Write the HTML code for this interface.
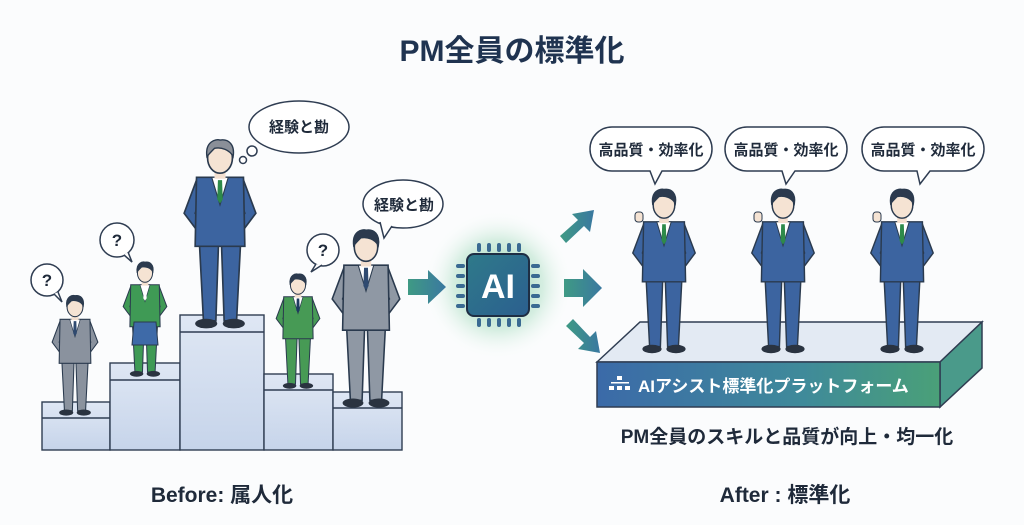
<!DOCTYPE html>
<html><head><meta charset="utf-8"><style>
html,body{margin:0;padding:0;background:#fbfcfd;}
svg{display:block}
text{font-family:"Liberation Sans","Noto Sans CJK JP",sans-serif;font-weight:bold}
</style></head><body>
<svg width="1024" height="525" viewBox="0 0 1024 525" xmlns="http://www.w3.org/2000/svg">
<defs>
<radialGradient id="glow" cx="50%" cy="50%" r="50%">
<stop offset="0" stop-color="#5fbf8a" stop-opacity="0.75"/>
<stop offset="0.6" stop-color="#8fd3ad" stop-opacity="0.35"/>
<stop offset="1" stop-color="#ffffff" stop-opacity="0"/>
</radialGradient>
<linearGradient id="chip" x1="0" y1="0" x2="1" y2="1">
<stop offset="0" stop-color="#2f7a8a"/><stop offset="1" stop-color="#2b5f8f"/>
</linearGradient>
<linearGradient id="plat" x1="0" y1="0" x2="1" y2="0">
<stop offset="0" stop-color="#3b6aa8"/><stop offset="0.6" stop-color="#3f8a9a"/><stop offset="1" stop-color="#4aa078"/>
</linearGradient>
<linearGradient id="arr" x1="0" y1="0" x2="1" y2="0">
<stop offset="0" stop-color="#3f9a84"/><stop offset="1" stop-color="#3a78a0"/>
</linearGradient>
<linearGradient id="blk" x1="0" y1="0" x2="0" y2="1">
<stop offset="0" stop-color="#dfe7f4"/><stop offset="1" stop-color="#c6d4ea"/>
</linearGradient>
<g id="p">
<path d="M-15,60 L-1,60 L-3,118 L-12,118 Z" fill="var(--s)" stroke="#2a3a4e" stroke-width="1.2"/>
<path d="M15,60 L1,60 L3,118 L12,118 Z" fill="var(--s)" stroke="#2a3a4e" stroke-width="1.2"/>
<ellipse cx="-10" cy="120" rx="8" ry="3.5" fill="#2a3340"/>
<ellipse cx="10" cy="120" rx="8" ry="3.5" fill="#2a3340"/>
<path d="M-17,16 L-26,40 L-14,56 L-10,50 L-18,40 L-12,24 Z" fill="var(--s)" stroke="#2a3a4e" stroke-width="1.2"/>
<path d="M17,16 L26,40 L14,56 L10,50 L18,40 L12,24 Z" fill="var(--s)" stroke="#2a3a4e" stroke-width="1.2"/>
<path d="M-17,14 L17,14 L18,64 L-18,64 Z" fill="var(--s)" stroke="#2a3a4e" stroke-width="1.2"/>
<path d="M-6,14 L6,14 L0,34 Z" fill="#fff" stroke="#2a3a4e" stroke-width="0.8"/>
<path d="M-1.5,16 L1.5,16 L2,30 L0,33 L-2,30 Z" fill="var(--t)"/>
<rect x="-4" y="7" width="8" height="8" fill="#f3dfcf"/>
<ellipse cx="0" cy="0" rx="9" ry="11" fill="#f5e3d3" stroke="#2a3a4e" stroke-width="1.2"/>
<path d="M-9.5,-1 C-11,-12 -3,-14 0,-13 C6,-14 11,-10 9.5,-1 C7,-6 1,-8 -4,-7 C-6,-5 -8,-3 -9.5,-1 Z" fill="var(--h)" stroke="#2a3a4e" stroke-width="1"/>
</g>
</defs>
<rect width="1024" height="525" fill="#fbfcfd"/>
<text x="512" y="61" font-size="30" text-anchor="middle" fill="#1f3350">PM全員の標準化</text>

<g stroke="#2f3d52" stroke-width="1.4">
<rect x="42" y="402" width="68" height="48" fill="url(#blk)"/>
<path d="M42,418 L110,418" fill="none"/>
<rect x="110" y="363" width="70" height="87" fill="url(#blk)"/>
<path d="M110,380 L180,380" fill="none"/>
<rect x="180" y="315" width="84" height="135" fill="url(#blk)"/>
<path d="M180,332 L264,332" fill="none"/>
<rect x="264" y="374" width="69" height="76" fill="url(#blk)"/>
<path d="M264,390 L333,390" fill="none"/>
<rect x="333" y="392" width="69" height="58" fill="url(#blk)"/>
<path d="M333,408 L402,408" fill="none"/>
</g>

<use href="#p" transform="translate(75,307) scale(0.88)" style="--s:#8a929e;--t:#2f4a70;--h:#2c3a4e"/>
<use href="#p" transform="translate(145,273) scale(0.84)" style="--s:#3f9a55;--t:#fff;--h:#2c3a4e"/>
<path d="M134,322 L156,322 L158,345 L132,345 Z" fill="#3e6aa8" stroke="#2a3a4e"/>
<use href="#p" transform="translate(220,158) scale(1.38)" style="--s:#3c64a0;--t:#2e8a4a;--h:#8a8f98"/>
<use href="#p" transform="translate(298,285) scale(0.84)" style="--s:#479a55;--t:#1e3a60;--h:#2c3a4e"/>
<use href="#p" transform="translate(366,247) scale(1.3)" style="--s:#8f98a4;--t:#2f4a70;--h:#2c3a4e"/>

<g fill="#fff" stroke="#2f3d52" stroke-width="1.5">
<circle cx="47" cy="280" r="16"/><path d="M54,294 L62,302 L58,292" />
<circle cx="117" cy="240" r="17"/><path d="M124,255 L132,262 L128,252"/>
<circle cx="323" cy="250" r="16"/><path d="M316,264 L311,272 L322,265"/>
</g>
<g font-size="17" fill="#1f2a3a" text-anchor="middle">
<text x="47" y="286">?</text><text x="117" y="246">?</text><text x="323" y="256">?</text>
</g>
<g fill="#fff" stroke="#2f3d52" stroke-width="1.5">
<ellipse cx="299" cy="127" rx="50" ry="26"/>
<circle cx="252" cy="151" r="5"/><circle cx="243" cy="160" r="3.5"/>
<ellipse cx="403" cy="204" rx="40" ry="24"/>
<path d="M380,222 L384,238 L392,226"/>
</g>
<g font-size="15" fill="#1f2a3a" text-anchor="middle">
<text x="299" y="132">経験と勘</text><text x="404" y="210">経験と勘</text>
</g>

<circle cx="498" cy="285" r="75" fill="url(#glow)"/>
<path d="M408,279 L428,279 L428,270 L446,287 L428,304 L428,295 L408,295 Z" fill="url(#arr)"/>
<g fill="#3a6a92">
<rect x="477" y="243" width="4" height="9" rx="2"/><rect x="487" y="243" width="4" height="9" rx="2"/><rect x="497" y="243" width="4" height="9" rx="2"/><rect x="507" y="243" width="4" height="9" rx="2"/><rect x="517" y="243" width="4" height="9" rx="2"/>
<rect x="477" y="318" width="4" height="9" rx="2"/><rect x="487" y="318" width="4" height="9" rx="2"/><rect x="497" y="318" width="4" height="9" rx="2"/><rect x="507" y="318" width="4" height="9" rx="2"/><rect x="517" y="318" width="4" height="9" rx="2"/>
<rect x="456" y="264" width="9" height="4" rx="2"/><rect x="456" y="274" width="9" height="4" rx="2"/><rect x="456" y="284" width="9" height="4" rx="2"/><rect x="456" y="294" width="9" height="4" rx="2"/><rect x="456" y="304" width="9" height="4" rx="2"/>
<rect x="531" y="264" width="9" height="4" rx="2"/><rect x="531" y="274" width="9" height="4" rx="2"/><rect x="531" y="284" width="9" height="4" rx="2"/><rect x="531" y="294" width="9" height="4" rx="2"/><rect x="531" y="304" width="9" height="4" rx="2"/>
</g>
<rect x="467" y="254" width="62" height="62" rx="7" fill="url(#chip)" stroke="#1e2e44" stroke-width="2"/>
<text x="498" y="298" font-size="34" fill="#fff" text-anchor="middle">AI</text>
<g fill="url(#arr)">
<path d="M560,236 L578,220 L572,214 L594,210 L590,232 L584,226 L566,243 Z"/>
<path d="M564,279 L583,279 L583,269 L602,288 L583,307 L583,297 L564,297 Z"/>
<path d="M566,326 L584,343 L578,349 L600,353 L596,331 L590,337 L573,319 Z"/>
</g>

<path d="M597,362 L640,322 L982,322 L940,362 Z" fill="#e3eaf3" stroke="#2f3d52" stroke-width="1.5"/>
<path d="M940,362 L982,322 L982,368 L940,407 Z" fill="#4a9a8a" stroke="#2f3d52" stroke-width="1.5"/>
<rect x="597" y="362" width="343" height="45" fill="url(#plat)" stroke="#2f3d52" stroke-width="1.5"/>
<g fill="#fff">
<rect x="617" y="376" width="5" height="4"/><rect x="609" y="386" width="5" height="4"/><rect x="617" y="386" width="5" height="4"/><rect x="625" y="386" width="5" height="4"/>
<rect x="611" y="382" width="18" height="1.5"/>
</g>
<text x="638" y="392" font-size="17" fill="#fff" font-weight="normal">AIアシスト標準化プラットフォーム</text>

<use href="#p" transform="translate(664,205) scale(1.2)" style="--s:#3c64a0;--t:#2e8a4a;--h:#2c3a4e"/>
<use href="#p" transform="translate(783,205) scale(1.2)" style="--s:#3c64a0;--t:#2e8a4a;--h:#2c3a4e"/>
<use href="#p" transform="translate(902,205) scale(1.2)" style="--s:#3c64a0;--t:#2e8a4a;--h:#2c3a4e"/>
<g fill="#f5e3d3" stroke="#2a3a4e" stroke-width="1">
<rect x="635" y="212" width="8" height="10" rx="3"/><rect x="754" y="212" width="8" height="10" rx="3"/><rect x="873" y="212" width="8" height="10" rx="3"/>
</g>

<g fill="#fff" stroke="#2f3d52" stroke-width="1.5">
<path d="M612,127 H690 A22,22 0 0 1 690,171 H662 L655,184 L650,171 H612 A22,22 0 0 1 612,127 Z"/>
<path d="M747,127 H825 A22,22 0 0 1 825,171 H795 L786,184 L782,171 H747 A22,22 0 0 1 747,127 Z"/>
<path d="M884,127 H962 A22,22 0 0 1 962,171 H930 L920,184 L917,171 H884 A22,22 0 0 1 884,127 Z"/>
</g>
<g font-size="15" fill="#1f2a3a" text-anchor="middle">
<text x="651" y="155">高品質・効率化</text><text x="786" y="155">高品質・効率化</text><text x="923" y="155">高品質・効率化</text>
</g>

<text x="787" y="443" font-size="19" fill="#1f2a3a" text-anchor="middle">PM全員のスキルと品質が向上・均一化</text>
<text x="222" y="502" font-size="21" fill="#1f2a3a" text-anchor="middle">Before: 属人化</text>
<text x="785" y="502" font-size="21" fill="#1f2a3a" text-anchor="middle">After : 標準化</text>
</svg>
</body></html>
